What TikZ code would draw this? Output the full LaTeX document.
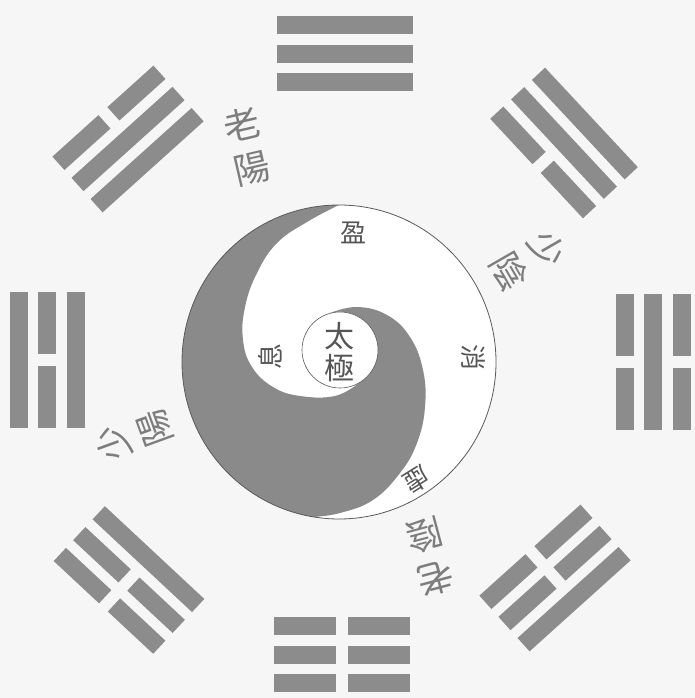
\documentclass[tikz,border=0pt]{standalone}
\usepackage{fontspec}
\newfontfamily\cjk{Noto Sans CJK TC}
\definecolor{bg}{RGB}{246,246,246}
\definecolor{barc}{RGB}{140,140,140}
\definecolor{yinc}{RGB}{138,138,138}
\definecolor{txo}{RGB}{125,125,125}
\definecolor{txi}{RGB}{85,85,85}
\definecolor{edgec}{RGB}{90,90,90}
\newcommand\yangbar[1]{\fill[barc] (-68,#1-9) rectangle (68,#1+9);}
\newcommand\yinbar[1]{\fill[barc] (-68,#1-9) rectangle (-6,#1+9); \fill[barc] (6,#1-9) rectangle (68,#1+9);}
\begin{document}
\begin{tikzpicture}[x=1pt,y=1pt,
  outer label/.style={text=txo, font=\cjk\fontsize{36}{44}\selectfont, align=center, inner sep=0pt},
  inner label/.style={text=txi, font=\cjk\fontsize{26}{28}\selectfont, inner sep=0pt},
  center label/.style={text=txi, font=\cjk\fontsize{30}{32}\selectfont, align=center, inner sep=0pt}]
\fill[bg] (0,0) rectangle (695,698);
\useasboundingbox (0,0) rectangle (695,698);
% trigrams (inner line at -28.5, outer line at +28.5)
\begin{scope}[shift={(345,644)},rotate=0] \yangbar{-28.5}\yangbar{0}\yangbar{28.5} \end{scope}
\begin{scope}[shift={(342,43)},rotate=180] \yinbar{-28.5}\yinbar{0}\yinbar{28.5} \end{scope}
\begin{scope}[shift={(47,338)},rotate=90] \yangbar{-28.5}\yinbar{0}\yangbar{28.5} \end{scope}
\begin{scope}[shift={(653,336)},rotate=-90] \yinbar{-28.5}\yangbar{0}\yinbar{28.5} \end{scope}
\begin{scope}[shift={(128,559)},rotate=42] \yangbar{-28.5}\yangbar{0}\yinbar{28.5} \end{scope}
\begin{scope}[shift={(564,555)},rotate=-47] \yinbar{-28.5}\yangbar{0}\yangbar{28.5} \end{scope}
\begin{scope}[shift={(129,118)},rotate=137] \yangbar{-28.5}\yinbar{0}\yinbar{28.5} \end{scope}
\begin{scope}[shift={(555,120)},rotate=222] \yinbar{-28.5}\yinbar{0}\yangbar{28.5} \end{scope}
% taiji
\fill[white] (339,336) circle[radius=157];
\fill[yinc] (339,493) arc[start angle=90,end angle=260.5,radius=157]
  -- plot[smooth,tension=0.7] coordinates {(313,181) (340,185) (373,198) (400,225) (417,255) (425,291) (423,328) (410,361) (387,383) (357,391) (330,385)}
  arc[start angle=105,end angle=-60,radius=38]
  -- plot[smooth,tension=0.7] coordinates {(359,315) (335,302) (300,302) (273,311) (252,331) (243,358) (245,391) (257,425) (277,455) (307,476) (339,493)}
  -- cycle;
\draw[edgec, line width=0.8pt] (339,336) circle[radius=157];
\draw[edgec, line width=0.6pt, fill=white] (340,348) circle[radius=38];
% labels
\node[center label] (taiji) at (339,346) {太\\極};
\node[inner label] (ying) at (353,465) {盈};
\node[inner label, rotate=-90] (xiao) at (473,340) {消};
\node[inner label, rotate=90] (xi) at (270,341) {息};
\node[inner label, rotate=212] (xu) at (417,218) {虛};
\node[outer label, rotate=13] (laoyang) at (247,551) {老\\陽};
\node[outer label, rotate=-60] (shaoyin) at (528,438) {少\\陰};
\node[outer label, rotate=110] (shaoyang) at (134,262) {少\\陽};
\node[outer label, rotate=195] (laoyin) at (430,141) {老\\陰};
\end{tikzpicture}
\end{document}
